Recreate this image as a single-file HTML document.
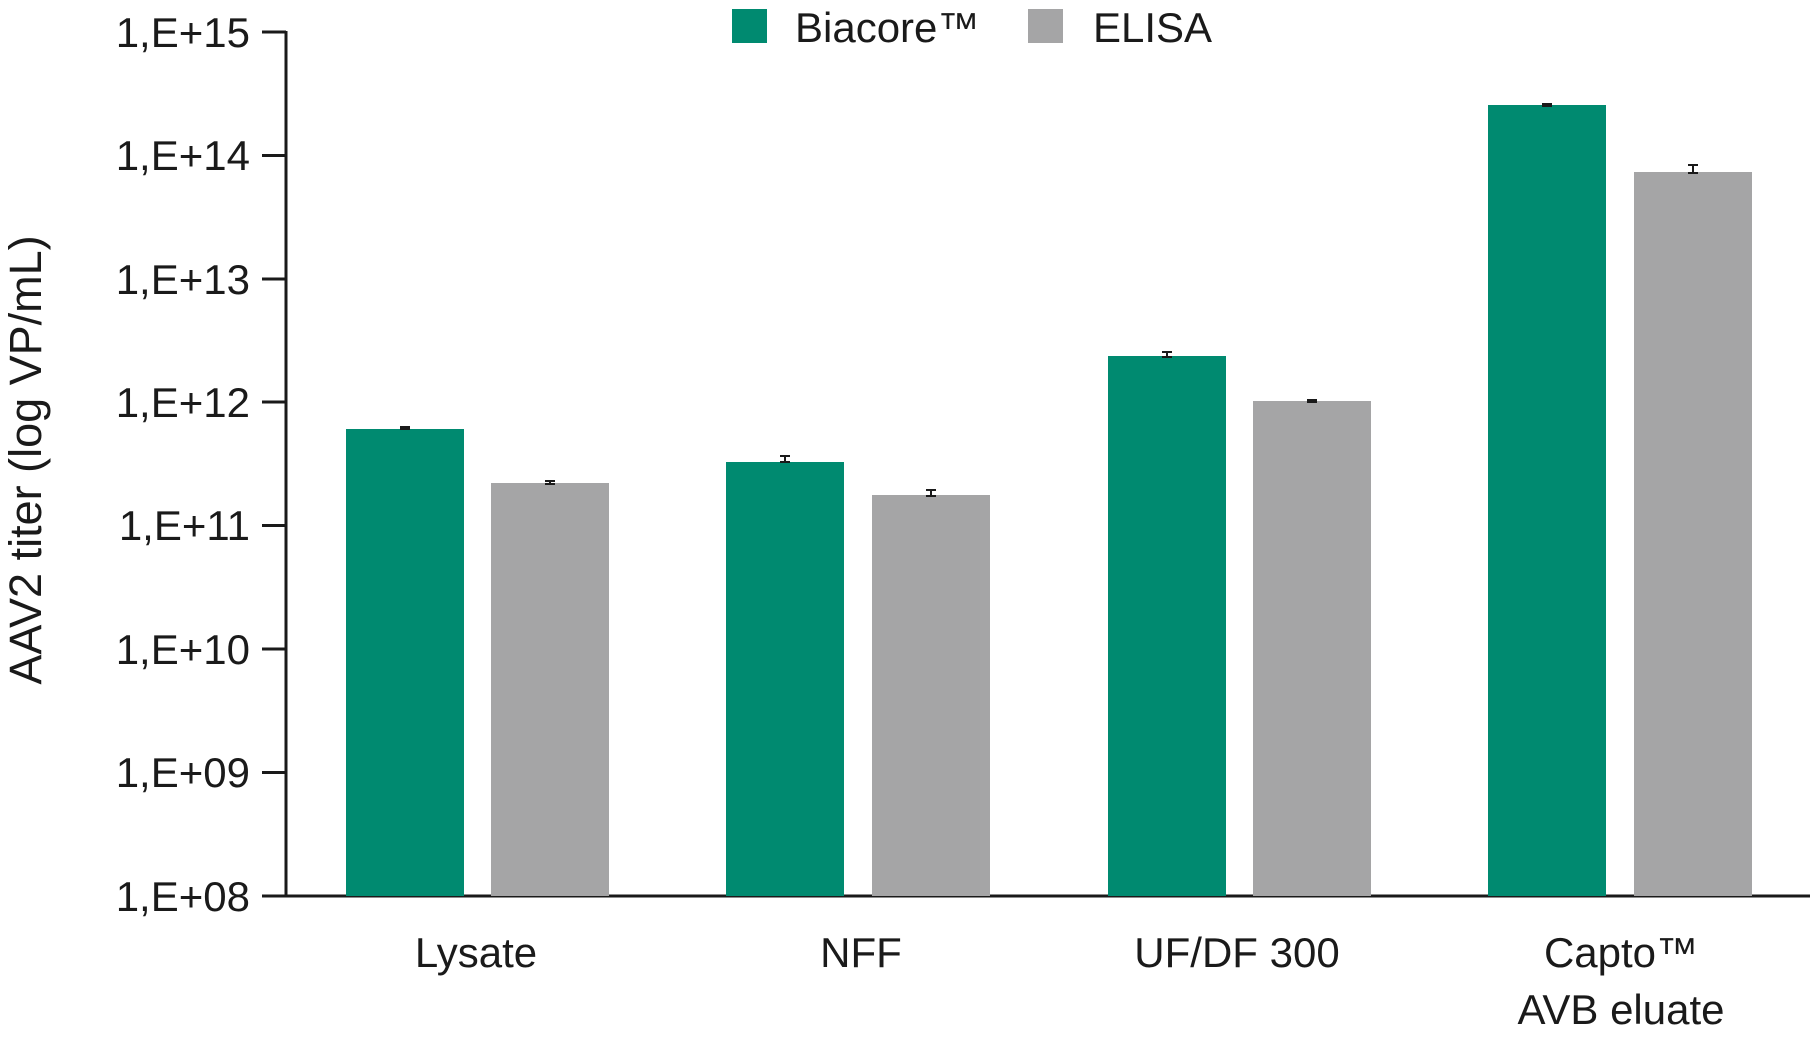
<!DOCTYPE html>
<html><head><meta charset="utf-8"><style>
body{margin:0;background:#fff}
svg text{font-family:"Liberation Sans",sans-serif;fill:#1a1a1a}
</style></head><body>
<svg width="1813" height="1035" viewBox="0 0 1813 1035" xmlns="http://www.w3.org/2000/svg">
<g stroke="#1a1a1a" stroke-width="3">
<line x1="286" y1="31" x2="286" y2="897"/>
<line x1="284" y1="896" x2="1810" y2="896"/>
<line x1="262" y1="32" x2="286" y2="32"/>
<line x1="262" y1="155.5" x2="286" y2="155.5"/>
<line x1="262" y1="279" x2="286" y2="279"/>
<line x1="262" y1="402" x2="286" y2="402"/>
<line x1="262" y1="525.5" x2="286" y2="525.5"/>
<line x1="262" y1="649" x2="286" y2="649"/>
<line x1="262" y1="772.5" x2="286" y2="772.5"/>
<line x1="262" y1="896" x2="286" y2="896"/>
</g>
<g font-size="42" text-anchor="end">
<text x="250" y="47">1,E+15</text>
<text x="250" y="170">1,E+14</text>
<text x="250" y="294">1,E+13</text>
<text x="250" y="417">1,E+12</text>
<text x="250" y="540">1,E+11</text>
<text x="250" y="664">1,E+10</text>
<text x="250" y="787">1,E+09</text>
<text x="250" y="911">1,E+08</text>
</g>
<text font-size="45" text-anchor="middle" transform="translate(41,460) rotate(-90)">AAV2 titer (log VP/mL)</text>
<g fill="#008a70">
<rect x="346" y="429" width="118" height="467"/>
<rect x="726" y="462" width="118" height="434"/>
<rect x="1108" y="356" width="118" height="540"/>
<rect x="1488" y="105" width="118" height="791"/>
<rect x="732" y="9" width="35" height="34"/>
</g>
<g fill="#a5a5a6">
<rect x="491" y="483" width="118" height="413"/>
<rect x="872" y="495" width="118" height="401"/>
<rect x="1253" y="401" width="118" height="495"/>
<rect x="1634" y="172" width="118" height="724"/>
<rect x="1028" y="9" width="35" height="34"/>
</g>
<g stroke="#1a1a1a" stroke-width="2">
<path d="M400 427h10M400 429h10M405 427v2"/>
<path d="M545 481h10M545 484h10M550 481v3"/>
<path d="M780 456h10M780 462h10M785 456v6"/>
<path d="M926 490h10M926 496h10M931 490v6"/>
<path d="M1162 352h10M1162 357h10M1167 352v5"/>
<path d="M1307 400h10M1307 402h10M1312 400v2"/>
<path d="M1542 104h10M1542 106h10M1547 104v2"/>
<path d="M1688 165h10M1688 173h10M1693 165v8"/>
</g>
<g font-size="42">
<text x="795" y="42">Biacore™</text>
<text x="1093" y="42">ELISA</text>
</g>
<g font-size="42" text-anchor="middle">
<text x="476" y="967">Lysate</text>
<text x="861" y="967">NFF</text>
<text x="1237" y="967">UF/DF 300</text>
<text x="1621" y="967">Capto™</text>
<text x="1621" y="1024">AVB eluate</text>
</g>
</svg>
</body></html>
